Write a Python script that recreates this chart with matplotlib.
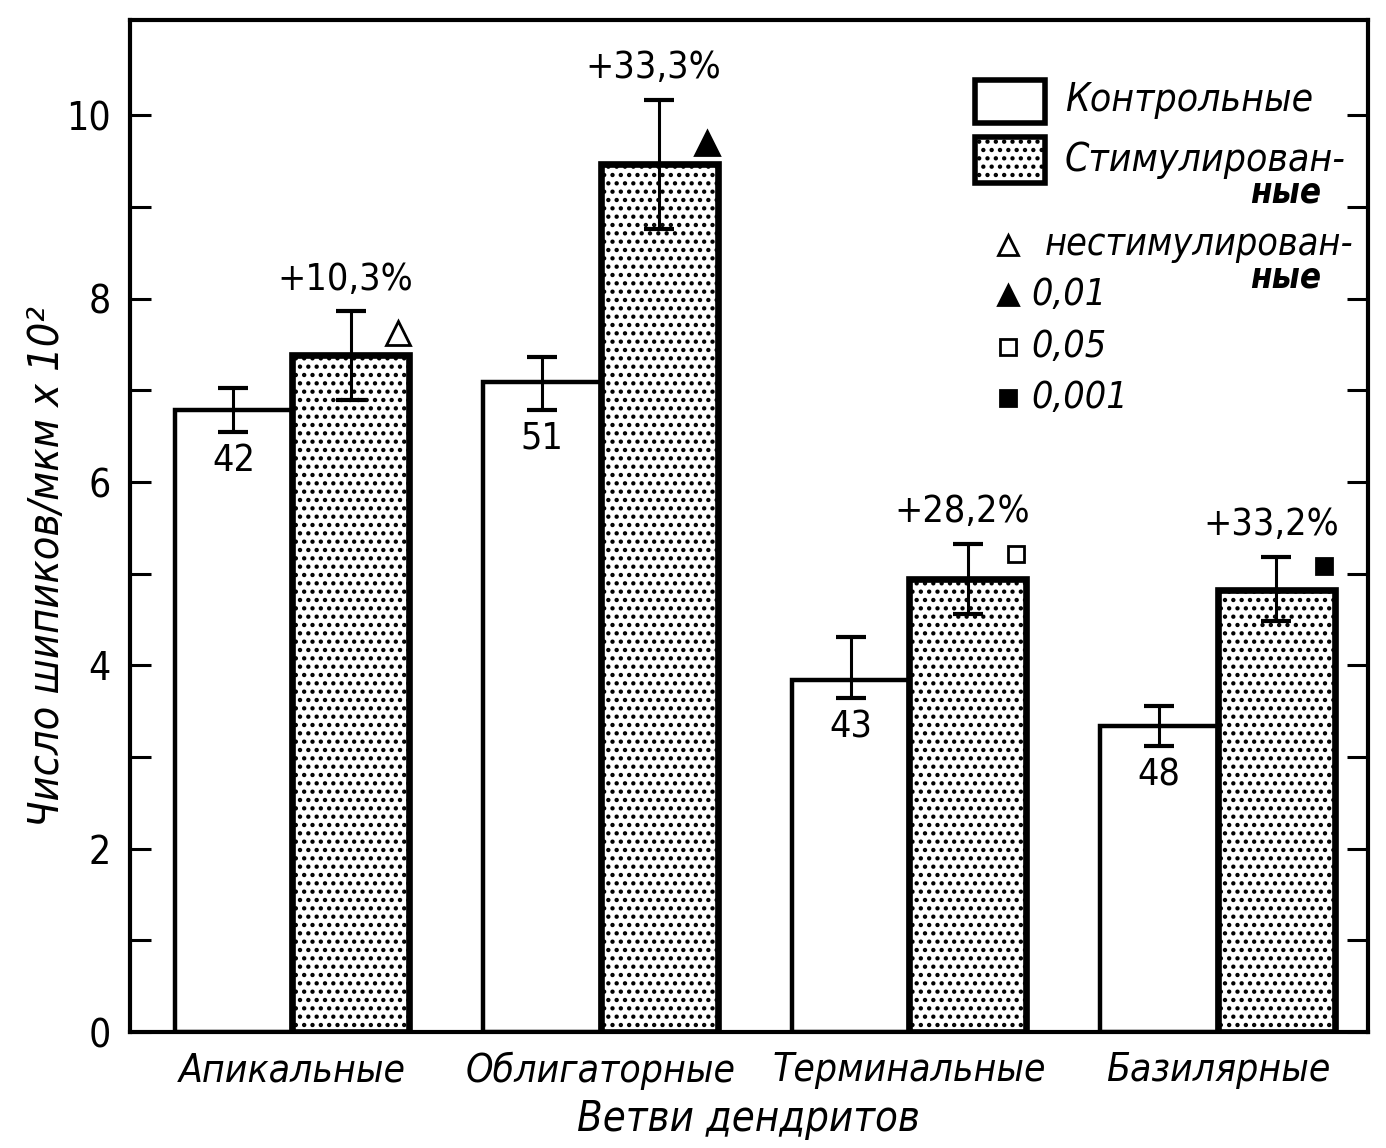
#!/usr/bin/env python3
"""Dendritic spine density: control vs stimulated, per dendrite branch."""
import matplotlib
matplotlib.use("Agg")
import matplotlib.pyplot as plt
from matplotlib.patches import Rectangle

plt.rcParams["font.family"] = ["DejaVu Sans"]
plt.rcParams["font.stretch"] = "condensed"
plt.rcParams["hatch.linewidth"] = 1.9

# --- data -----------------------------------------------------------------
categories = ["Апикальные", "Облигаторные", "Терминальные", "Базилярные"]
control = [6.79, 7.09, 3.84, 3.34]
control_err_lo = [0.24, 0.30, 0.20, 0.22]
control_err_hi = [0.24, 0.27, 0.47, 0.22]
stim = [7.39, 9.47, 4.94, 4.82]
stim_err_lo = [0.50, 0.71, 0.38, 0.34]
stim_err_hi = [0.47, 0.70, 0.38, 0.36]
n_control = ["42", "51", "43", "48"]
pct_labels = ["+10,3%", "+33,3%", "+28,2%", "+33,2%"]
sig_marker = ["^", "^", "s", "s"]
sig_filled = [False, True, False, True]
sig_y = [7.63, 9.70, 5.22, 5.08]

W = 0.38
BLACK = "black"

fig = plt.figure(figsize=(13.86, 11.48), dpi=100)
ax = fig.add_axes([0.0938, 0.101, 0.893, 0.8816])

x = list(range(len(categories)))
xc = [i - W / 2 for i in x]
xs = [i + W / 2 for i in x]

ax.bar(xc, control, width=W, color="white", edgecolor=BLACK, linewidth=3.2, zorder=2)
ax.bar(xs, stim, width=W, color="white", edgecolor=BLACK, linewidth=4.8,
       hatch="..", zorder=3)

ax.errorbar(xc, control, yerr=[control_err_lo, control_err_hi], fmt="none",
            ecolor=BLACK, elinewidth=2.2, capsize=11, capthick=3, zorder=4)
ax.errorbar(xs, stim, yerr=[stim_err_lo, stim_err_hi], fmt="none",
            ecolor=BLACK, elinewidth=2.2, capsize=11, capthick=3, zorder=4)

for i in x:
    ax.annotate(n_control[i], (xc[i], control[i] - control_err_lo[i]),
                xytext=(0, -8), textcoords="offset points",
                ha="center", va="top", fontsize=27)
    ax.annotate(pct_labels[i], (xs[i], stim[i] + stim_err_hi[i]),
                xytext=(-4, 10), textcoords="offset points",
                ha="center", va="bottom", fontsize=27)
    ax.plot(xs[i] + 0.155, sig_y[i], marker=sig_marker[i],
            markersize=17 if sig_marker[i] == "^" else 12,
            markerfacecolor=BLACK if sig_filled[i] else "white",
            markeredgecolor=BLACK, markeredgewidth=2, zorder=5)

# --- axes styling ----------------------------------------------------------
ax.set_xlim(-0.525, 3.486)
ax.set_ylim(0, 11.04)
ax.set_yticks(range(0, 11))
ax.set_yticklabels([str(v) if v % 2 == 0 else "" for v in range(0, 11)], fontsize=28)
ax.set_xticks(x)
ax.set_xticklabels(categories, fontsize=28, style="italic")
ax.tick_params(axis="x", length=0, pad=14)
ax.tick_params(axis="y", direction="in", length=15, width=2.2, pad=14,
               right=True, left=True)
for s in ax.spines.values():
    s.set_linewidth(3)

ax.set_xlabel("Ветви дендритов", fontsize=30, style="italic", labelpad=6)
ax.set_ylabel("Число шипиков/мкм x 10²", fontsize=31, style="italic")
ax.yaxis.set_label_coords(-0.05, 0.46)

# --- legend drawn in axes coordinates --------------------------------------
def ax_x(px):
    return (px - 130) / 1238


def ax_y(py):
    return (1032 - py) / 1012


ax.add_patch(Rectangle((ax_x(975), ax_y(123)), 70 / 1238, 43 / 1012,
                       transform=ax.transAxes, facecolor="white",
                       edgecolor=BLACK, linewidth=4, zorder=6))
ax.add_patch(Rectangle((ax_x(975), ax_y(183)), 70 / 1238, 46 / 1012,
                       transform=ax.transAxes, facecolor="white", hatch="..",
                       edgecolor=BLACK, linewidth=4, zorder=6))
ax.text(ax_x(1065), ax_y(100), "Контрольные", transform=ax.transAxes,
        fontsize=28, style="italic", va="center", ha="left")
ax.text(ax_x(1065), ax_y(160), "Стимулирован-", transform=ax.transAxes,
        fontsize=28, style="italic", va="center", ha="left")
ax.text(ax_x(1322), ax_y(193), "ные", transform=ax.transAxes,
        fontsize=25, style="italic", weight="bold", va="center", ha="right")

legend_marks = [("^", False, 245, "нестимулирован-", 1045),
                ("^", True, 295, "0,01", 1032),
                ("s", False, 347, "0,05", 1032),
                ("s", True, 398, "0,001", 1032)]
for m, filled, py, label, tx in legend_marks:
    ax.plot(ax_x(1008), ax_y(py), marker=m, transform=ax.transAxes,
            markersize=15 if m == "^" else 11,
            markerfacecolor=BLACK if filled else "white",
            markeredgecolor=BLACK, markeredgewidth=2, clip_on=False)
    ax.text(ax_x(tx), ax_y(py), label, transform=ax.transAxes,
            fontsize=27, style="italic", va="center", ha="left")
ax.text(ax_x(1322), ax_y(278), "ные", transform=ax.transAxes,
        fontsize=25, style="italic", weight="bold", va="center", ha="right")

fig.savefig("out.png", dpi=100)
